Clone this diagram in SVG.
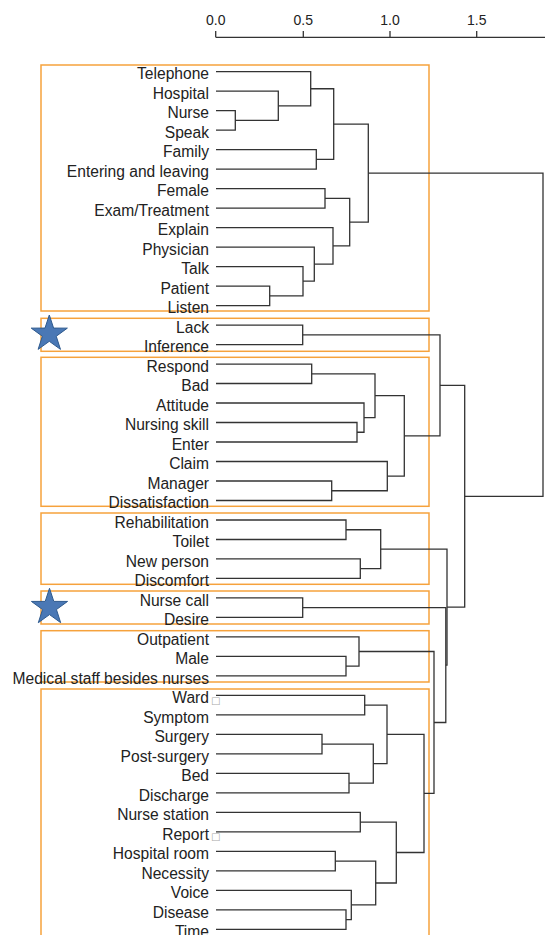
<svg xmlns="http://www.w3.org/2000/svg" xmlns:xlink="http://www.w3.org/1999/xlink" width="545" height="935" viewBox="0 0 545 935">
<style>
.lbl{font-family:"Liberation Sans",Arial,sans-serif;font-size:15.6px;fill:#222;text-anchor:end}
.ax{font-family:"Liberation Sans",Arial,sans-serif;font-size:14px;fill:#222;text-anchor:middle}
.tofu{font-family:"DejaVu Sans",sans-serif;font-size:10px;fill:#aaa}
.box{fill:none;stroke:#F6A23C;stroke-width:1.5}
.den{fill:none;stroke:#333;stroke-width:1.3}
.star{fill:#4A78B5;stroke:#2E5A8E;stroke-width:1}
</style>
<defs>
<polygon id="star" points="0,-19 4.29,-5.91 18.07,-5.87 6.94,2.26 11.17,15.37 0,7.3 -11.17,15.37 -6.94,2.26 -18.07,-5.87 -4.29,-5.91"/>
</defs>
<rect width="545" height="935" fill="#fff"/>
<g id="axis">
<path class="den" d="M215.7 37.3 H545 M215.7 31 V37.3 M303.3 31 V37.3 M390 31 V37.3 M476.7 31 V37.3"/>
<text class="ax" x="215.7" y="25">0.0</text>
<text class="ax" x="303.3" y="25">0.5</text>
<text class="ax" x="390" y="25">1.0</text>
<text class="ax" x="476.7" y="25">1.5</text>
</g>
<g id="clusters">
<rect id="box1" class="box" x="41" y="65" width="388" height="246"/>
<rect id="box2" class="box" x="41" y="318.3" width="388" height="33"/>
<rect id="box3" class="box" x="41" y="357.3" width="388" height="149"/>
<rect id="box4" class="box" x="41" y="513" width="388" height="71.3"/>
<rect id="box5" class="box" x="41" y="591" width="388" height="33"/>
<rect id="box6" class="box" x="41" y="630.7" width="388" height="51.3"/>
<rect id="box7" class="box" x="41" y="689" width="388" height="260"/>
</g>
<g id="stars">
<use id="star1" class="star" xlink:href="#star" href="#star" x="49.3" y="334"/>
<use id="star2" class="star" xlink:href="#star" href="#star" x="49.5" y="607.3"/>
</g>
<g id="connectors" class="den">
<path d="M216 110.7 H235.3 V130.2 H216"/>
<path d="M216 91.2 H278.3 V120.45 H235.3"/>
<path d="M216 71.7 H310.7 V105.8 H278.3"/>
<path d="M216 149.7 H316.3 V169.2 H216"/>
<path d="M310.7 88.75 H333.7 V159.45 H316.3"/>
<path d="M216 188.6 H325 V208.1 H216"/>
<path d="M216 286.1 H269.7 V305.6 H216"/>
<path d="M216 266.6 H303 V295.85 H269.7"/>
<path d="M216 247.1 H314.3 V281.2 H303"/>
<path d="M216 227.6 H333 V264.15 H314.3"/>
<path d="M325 198.35 H349.7 V245.9 H333"/>
<path d="M333.7 124.1 H368.3 V222.1 H349.7"/>
<path d="M216 325.1 H302.7 V344.6 H216"/>
<path d="M216 364.1 H311.7 V383.5 H216"/>
<path d="M216 422.5 H357 V442 H216"/>
<path d="M216 403 H364 V432.25 H357"/>
<path d="M311.7 373.8 H375 V417.6 H364"/>
<path d="M216 481 H331.7 V500.5 H216"/>
<path d="M216 461.5 H387.3 V490.75 H331.7"/>
<path d="M375 395.7 H404.3 V476.1 H387.3"/>
<path d="M302.7 334.85 H440 V435.9 H404.3"/>
<path d="M216 520 H346 V539.5 H216"/>
<path d="M216 558.9 H360.3 V578.4 H216"/>
<path d="M346 529.75 H380.7 V568.65 H360.3"/>
<path d="M216 597.9 H302.7 V617.4 H216"/>
<path d="M216 656.4 H346 V675.9 H216"/>
<path d="M216 636.9 H359 V666.15 H346"/>
<path d="M216 695.4 H364.7 V714.9 H216"/>
<path d="M216 734.4 H322 V753.9 H216"/>
<path d="M216 773.3 H349 V792.8 H216"/>
<path d="M322 744.15 H373.3 V783.05 H349"/>
<path d="M364.7 705.15 H387 V763.6 H373.3"/>
<path d="M216 812.3 H360.3 V831.8 H216"/>
<path d="M216 851.3 H335.3 V870.8 H216"/>
<path d="M216 909.8 H346 V929.3 H216"/>
<path d="M216 890.3 H351.3 V919.55 H346"/>
<path d="M335.3 861.05 H375.7 V904.9 H351.3"/>
<path d="M360.3 822.05 H396.3 V882.98 H375.7"/>
<path d="M387 734.4 H424 V852.5 H396.3"/>
<path d="M359 651.5 H434 V793.45 H424"/>
<path d="M302.7 607.65 H445.8 V722.5 H434"/>
<path d="M380.7 549.2 H447 V665.1 H445.8"/>
<path d="M440 385.4 H464.7 V607.15 H447"/>
<path d="M368.3 173.1 H543 V496.3 H464.7"/>
</g>
<g id="leaves">
<g id="leaf-telephone"><text class="lbl" x="209" y="79.4">Telephone</text></g>
<g id="leaf-hospital"><text class="lbl" x="209" y="98.9">Hospital</text></g>
<g id="leaf-nurse"><text class="lbl" x="209" y="118.4">Nurse</text></g>
<g id="leaf-speak"><text class="lbl" x="209" y="137.9">Speak</text></g>
<g id="leaf-family"><text class="lbl" x="209" y="157.4">Family</text></g>
<g id="leaf-entering"><text class="lbl" x="209" y="176.9">Entering and leaving</text></g>
<g id="leaf-female"><text class="lbl" x="209" y="196.3">Female</text></g>
<g id="leaf-exam"><text class="lbl" x="209" y="215.8">Exam/Treatment</text></g>
<g id="leaf-explain"><text class="lbl" x="209" y="235.3">Explain</text></g>
<g id="leaf-physician"><text class="lbl" x="209" y="254.8">Physician</text></g>
<g id="leaf-talk"><text class="lbl" x="209" y="274.3">Talk</text></g>
<g id="leaf-patient"><text class="lbl" x="209" y="293.8">Patient</text></g>
<g id="leaf-listen"><text class="lbl" x="209" y="313.3">Listen</text></g>
<g id="leaf-lack"><text class="lbl" x="209" y="332.8">Lack</text></g>
<g id="leaf-inference"><text class="lbl" x="209" y="352.3">Inference</text></g>
<g id="leaf-respond"><text class="lbl" x="209" y="371.8">Respond</text></g>
<g id="leaf-bad"><text class="lbl" x="209" y="391.2">Bad</text></g>
<g id="leaf-attitude"><text class="lbl" x="209" y="410.7">Attitude</text></g>
<g id="leaf-nursing-skill"><text class="lbl" x="209" y="430.2">Nursing skill</text></g>
<g id="leaf-enter"><text class="lbl" x="209" y="449.7">Enter</text></g>
<g id="leaf-claim"><text class="lbl" x="209" y="469.2">Claim</text></g>
<g id="leaf-manager"><text class="lbl" x="209" y="488.7">Manager</text></g>
<g id="leaf-dissatisfaction"><text class="lbl" x="209" y="508.2">Dissatisfaction</text></g>
<g id="leaf-rehabilitation"><text class="lbl" x="209" y="527.7">Rehabilitation</text></g>
<g id="leaf-toilet"><text class="lbl" x="209" y="547.2">Toilet</text></g>
<g id="leaf-new-person"><text class="lbl" x="209" y="566.6">New person</text></g>
<g id="leaf-discomfort"><text class="lbl" x="209" y="586.1">Discomfort</text></g>
<g id="leaf-nurse-call"><text class="lbl" x="209" y="605.6">Nurse call</text></g>
<g id="leaf-desire"><text class="lbl" x="209" y="625.1">Desire</text></g>
<g id="leaf-outpatient"><text class="lbl" x="209" y="644.6">Outpatient</text></g>
<g id="leaf-male"><text class="lbl" x="209" y="664.1">Male</text></g>
<g id="leaf-medical-staff"><text class="lbl" x="209" y="683.6">Medical staff besides nurses</text></g>
<g id="leaf-ward"><text class="lbl" x="209" y="703.1">Ward</text><text class="tofu" x="211" y="703.6">□</text></g>
<g id="leaf-symptom"><text class="lbl" x="209" y="722.6">Symptom</text></g>
<g id="leaf-surgery"><text class="lbl" x="209" y="742.1">Surgery</text></g>
<g id="leaf-post-surgery"><text class="lbl" x="209" y="761.6">Post-surgery</text></g>
<g id="leaf-bed"><text class="lbl" x="209" y="781">Bed</text></g>
<g id="leaf-discharge"><text class="lbl" x="209" y="800.5">Discharge</text></g>
<g id="leaf-nurse-station"><text class="lbl" x="209" y="820">Nurse station</text></g>
<g id="leaf-report"><text class="lbl" x="209" y="839.5">Report</text><text class="tofu" x="211" y="840">□</text></g>
<g id="leaf-hospital-room"><text class="lbl" x="209" y="859">Hospital room</text></g>
<g id="leaf-necessity"><text class="lbl" x="209" y="878.5">Necessity</text></g>
<g id="leaf-voice"><text class="lbl" x="209" y="898">Voice</text></g>
<g id="leaf-disease"><text class="lbl" x="209" y="917.5">Disease</text></g>
<g id="leaf-time"><text class="lbl" x="209" y="937">Time</text></g>
</g>
</svg>
